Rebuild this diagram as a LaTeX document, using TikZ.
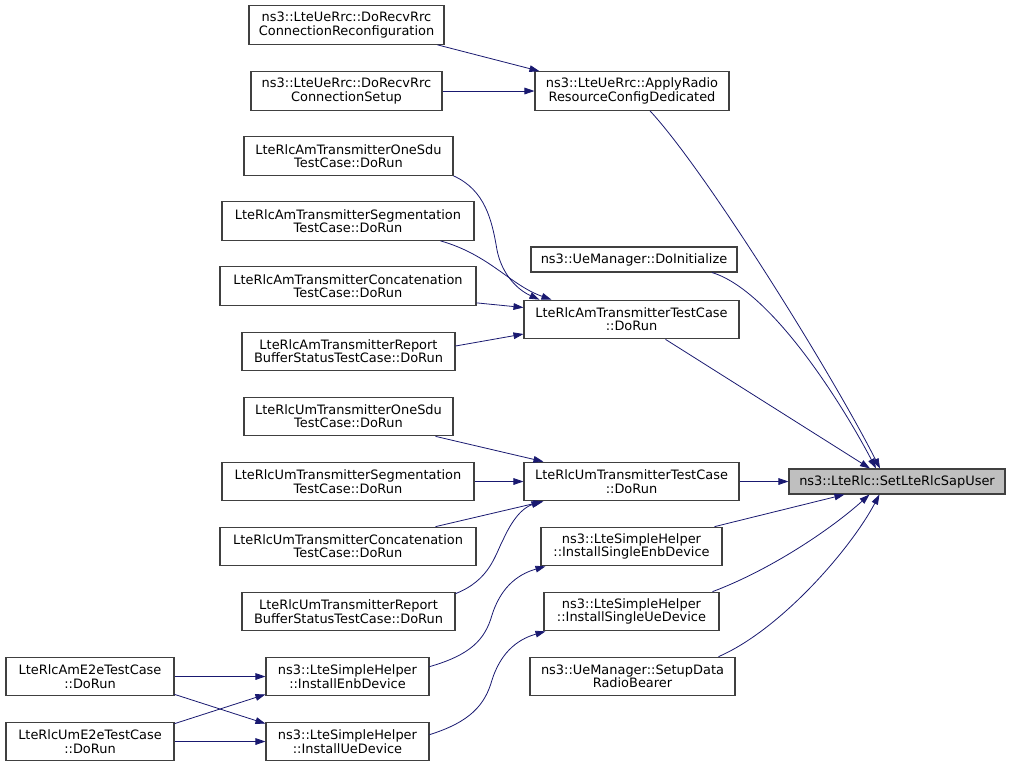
\documentclass[tikz,border=0pt]{standalone}
\usepackage{fontspec}
\setmainfont{DejaVu Sans}
\usetikzlibrary{arrows.meta,calc}
\definecolor{edgec}{HTML}{191970}
\definecolor{boxc}{HTML}{404040}
\definecolor{hlc}{HTML}{BFBFBF}
\begin{document}
\begin{tikzpicture}[x=0.75pt,y=-0.75pt,
  fn/.style={draw=boxc,line width=0.8pt,fill=white,inner sep=0pt,align=center,
    minimum height=29pt,font=\fontsize{9.7}{10}\selectfont},
  fn1/.style={fn,minimum height=18.75pt},
  hl/.style={fn1,fill=hlc},
  edge/.style={draw=edgec,line width=0.6pt,-{Triangle[length=7.5pt,width=5pt]}}]
\useasboundingbox (0,0) rectangle (1011,769);
\node[fn,minimum width=146.25pt] (n1) at (346.5,25) {ns3::LteUeRrc::DoRecvRrc\\ConnectionReconfiguration};
\node[fn,minimum width=143.25pt] (n2) at (346.5,91) {ns3::LteUeRrc::DoRecvRrc\\ConnectionSetup};
\node[fn,minimum width=145.5pt] (n3) at (632,91) {ns3::LteUeRrc::ApplyRadio\\ResourceConfigDedicated};
\node[fn,minimum width=156.75pt] (n4) at (348.5,156) {LteRlcAmTransmitterOneSdu\\TestCase::DoRun};
\node[fn,minimum width=189pt] (n5) at (348,221) {LteRlcAmTransmitterSegmentation\\TestCase::DoRun};
\node[fn1,minimum width=154.5pt] (n6) at (634,259.5) {ns3::UeManager::DoInitialize};
\node[fn,minimum width=192pt] (n7) at (348,286) {LteRlcAmTransmitterConcatenation\\TestCase::DoRun};
\node[fn,minimum width=161.25pt] (n8) at (631.5,319.5) {LteRlcAmTransmitterTestCase\\::DoRun};
\node[fn,minimum width=159.75pt] (n9) at (348.5,351.5) {LteRlcAmTransmitterReport\\BufferStatusTestCase::DoRun};
\node[fn,minimum width=156.75pt] (n10) at (348.5,416.5) {LteRlcUmTransmitterOneSdu\\TestCase::DoRun};
\node[fn,minimum width=189pt] (n11) at (348,481.5) {LteRlcUmTransmitterSegmentation\\TestCase::DoRun};
\node[fn,minimum width=161.25pt] (n12) at (631.5,481.5) {LteRlcUmTransmitterTestCase\\::DoRun};
\node[hl,minimum width=162pt] (n13) at (897,481.5) {ns3::LteRlc::SetLteRlcSapUser};
\node[fn,minimum width=192pt] (n14) at (348,546.5) {LteRlcUmTransmitterConcatenation\\TestCase::DoRun};
\node[fn,minimum width=135.75pt] (n15) at (631.5,546.5) {ns3::LteSimpleHelper\\::InstallSingleEnbDevice};
\node[fn,minimum width=159.75pt] (n16) at (348.5,611.5) {LteRlcUmTransmitterReport\\BufferStatusTestCase::DoRun};
\node[fn,minimum width=131.25pt] (n17) at (631.5,611.5) {ns3::LteSimpleHelper\\::InstallSingleUeDevice};
\node[fn,minimum width=126pt] (n18) at (90,676.5) {LteRlcAmE2eTestCase\\::DoRun};
\node[fn,minimum width=122.25pt] (n19) at (347.5,676.5) {ns3::LteSimpleHelper\\::InstallEnbDevice};
\node[fn,minimum width=153.75pt] (n20) at (632.5,676.5) {ns3::UeManager::SetupData\\RadioBearer};
\node[fn,minimum width=126pt] (n21) at (90,741.5) {LteRlcUmE2eTestCase\\::DoRun};
\node[fn,minimum width=122.25pt] (n22) at (347.5,741.5) {ns3::LteSimpleHelper\\::InstallUeDevice};
% edges
\draw[edge] ($(n1.south east)+(-7,0)$) -- ($(n3.north west)+(5,0)$);
\draw[edge] (n2.east) -- (n3.west);
\draw[edge] ($(n3.south)+(18,0)$) .. controls (705,170) and (830,370) .. ($(n13.north)+(-17,0)$);
\draw[edge] ($(n4.south east)+(0,0)$) .. controls (485,190) and (492,220) .. (497,250) .. controls (502,275) and (518,290) .. ($(n8.north west)+(16,0)$);
\draw[edge] ($(n5.south east)+(-34,0)$) .. controls (490,255) and (510,285) .. ($(n8.north west)+(28,0)$);
\draw[edge] ($(n7.south east)+(0,-3)$) -- ($(n8.west)+(0,-12)$);
\draw[edge] ($(n9.east)+(0,-5.5)$) -- ($(n8.west)+(0,14.5)$);
\draw[edge] ($(n6.south)+(78,0)$) .. controls (770,290) and (840,400) .. ($(n13.north)+(-21,0)$);
\draw[edge] ($(n8.south)+(34,0)$) -- ($(n13.north)+(-27,0)$);
\draw[edge] ($(n10.south east)+(-18,0)$) -- ($(n12.north west)+(20,0)$);
\draw[edge] (n11.east) -- (n12.west);
\draw[edge] ($(n14.north east)+(-41,0)$) -- ($(n12.south west)+(20,0)$);
\draw[edge] ($(n16.north east)+(0,2)$) .. controls (490,580) and (495,555) .. (503,540) .. controls (512,520) and (522,508) .. ($(n12.south west)+(18,0)$);
\draw[edge] (n12.east) -- (n13.west);
\draw[edge] ($(n15.north east)+(-8,0)$) -- ($(n13.south west)+(56,0)$);
\draw[edge] ($(n17.north east)+(-7,0)$) .. controls (770,570) and (830,530) .. ($(n13.south west)+(81,0)$);
\draw[edge] ($(n20.north east)+(-17,0)$) .. controls (780,630) and (850,550) .. ($(n13.south west)+(91,0)$);
\draw[edge] ($(n19.north east)+(0,10)$) .. controls (470,655) and (485,640) .. (492,615) .. controls (500,590) and (515,575) .. ($(n15.south west)+(5,0)$);
\draw[edge] ($(n22.north east)+(0,13)$) .. controls (470,722) and (485,705) .. (492,680) .. controls (500,655) and (515,640) .. ($(n17.south west)+(2,0)$);
\draw[edge] (n18.east) -- (n19.west);
\draw[edge] ($(n18.south east)+(0,-2)$) -- ($(n22.north west)+(0,2)$);
\draw[edge] ($(n21.north east)+(0,2)$) -- ($(n19.south west)+(0,-2)$);
\draw[edge] (n21.east) -- (n22.west);
\end{tikzpicture}
\end{document}
